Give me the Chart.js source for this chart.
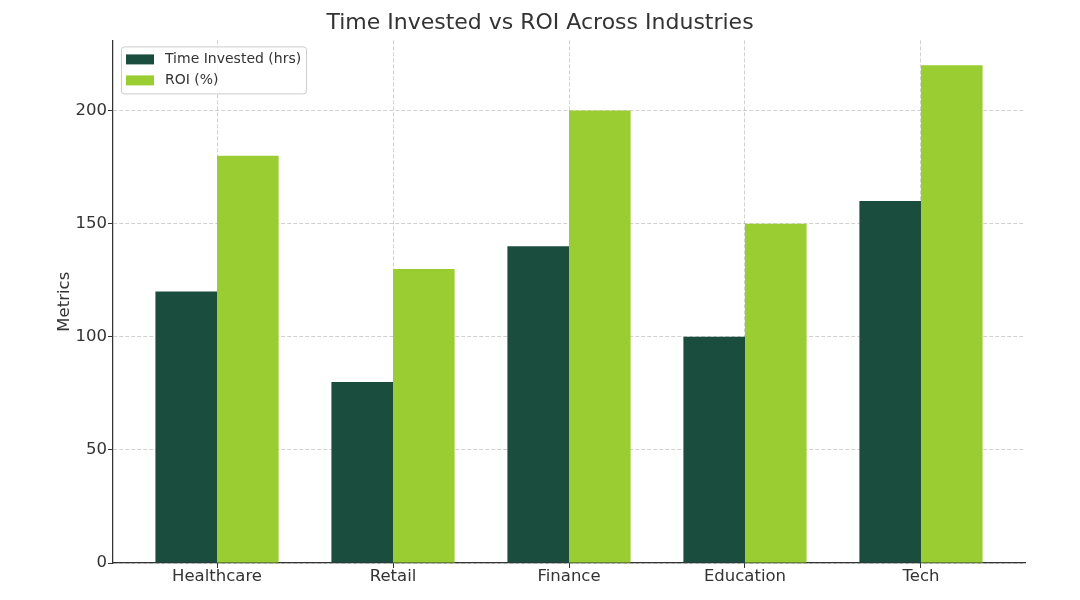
<!DOCTYPE html>
<html>
<head>
<meta charset="utf-8">
<script src="https://cdn.jsdelivr.net/npm/chart.js@4"></script>
<style>
  html, body { margin: 0; padding: 0; background: #fff; }
  #wrap { width: 1080px; height: 600px; }
</style>
</head>
<body>
<div id="wrap"><canvas id="roiChart"></canvas></div>
<script>
const industries = ['Healthcare', 'Retail', 'Finance', 'Education', 'Tech'];
const timeInvested = [120, 80, 140, 100, 160];
const roi = [180, 130, 200, 150, 220];
const yTicks = [0, 50, 100, 150, 200];

const darkGreen = '#1b4d3e';
const lightGreen = '#9acd32';
const textColor = '#333333';
const font = 'DejaVu Sans';

// legend box drawn inside the plot, like the original
const innerLegend = {
    id: 'innerLegend',
    afterDraw: chart => {
        const ctx = chart.ctx;
        const area = chart.chartArea;
        const x = area.left + 8, y = area.top + 6;
        ctx.save();
        ctx.fillStyle = 'rgba(255,255,255,0.8)';
        ctx.strokeStyle = '#cccccc';
        ctx.lineWidth = 1;
        ctx.beginPath();
        ctx.roundRect(x + 0.5, y + 0.5, 185, 47, 3);
        ctx.fill();
        ctx.stroke();
        ctx.font = '14px "' + font + '"';
        ctx.textBaseline = 'middle';
        chart.data.datasets.forEach((ds, i) => {
            const rowY = y + 13 + i * 21;
            ctx.fillStyle = ds.backgroundColor;
            ctx.fillRect(x + 5, rowY - 5, 28, 10);
            ctx.fillStyle = textColor;
            ctx.fillText(ds.label, x + 44, rowY);
        });
        ctx.restore();
    }
};

const gridOpts = {
    offset: false,
    color: 'rgba(0,0,0,0.18)',
    tickColor: textColor,
    tickLength: 5,
    tickBorderDash: []
};

const dataRoi = {
    datasets: [{
        label: 'Time Invested (hrs)',
        data: timeInvested.map((v, i) => ({ x: i, y: v })),
        backgroundColor: darkGreen,
    }, {
        label: 'ROI (%)',
        data: roi.map((v, i) => ({ x: i, y: v })),
        backgroundColor: lightGreen,
    }]
};

const configRoi = {
    type: 'bar',
    data: dataRoi,
    plugins: [innerLegend],
    options: {
        responsive: false,
        animation: false,
        layout: { padding: { left: 55, right: 55, top: 0, bottom: 0 } },
        datasets: { bar: { categoryPercentage: 0.7, barPercentage: 1.0 } },
        plugins: {
            legend: { display: false },
            tooltip: { enabled: false },
            title: {
                display: true,
                text: 'Time Invested vs ROI Across Industries',
                color: textColor,
                font: { family: font, size: 22, weight: 'normal' },
                padding: { top: 10, bottom: 4 }
            }
        },
        scales: {
            x: {
                type: 'linear',
                min: -0.591,
                max: 4.591,
                offset: false,
                z: 1,
                afterBuildTicks: scale => {
                    scale.ticks = industries.map((c, i) => ({ value: i }));
                },
                afterFit: scale => { scale.height = 37; },
                ticks: {
                    callback: v => industries[v],
                    color: textColor,
                    font: { family: font, size: 16.5 },
                    padding: -1
                },
                grid: gridOpts,
                border: { color: textColor, width: 1.25, dash: [4, 2] }
            },
            y: {
                min: 0,
                max: 231,
                z: 1,
                afterBuildTicks: scale => {
                    scale.ticks = yTicks.map(v => ({ value: v }));
                },
                afterFit: scale => { scale.width = 58; },
                ticks: {
                    color: textColor,
                    font: { family: font, size: 16.5 },
                    padding: 1
                },
                grid: gridOpts,
                border: { color: textColor, width: 1.25, dash: [4, 2] },
                title: {
                    display: true,
                    text: 'Metrics',
                    color: textColor,
                    font: { family: font, size: 16.5 },
                    padding: { top: 0, bottom: 0 }
                }
            }
        }
    }
};

const canvas = document.getElementById('roiChart');
canvas.width = 1080;
canvas.height = 600;
new Chart(canvas, configRoi);
</script>
</body>
</html>
